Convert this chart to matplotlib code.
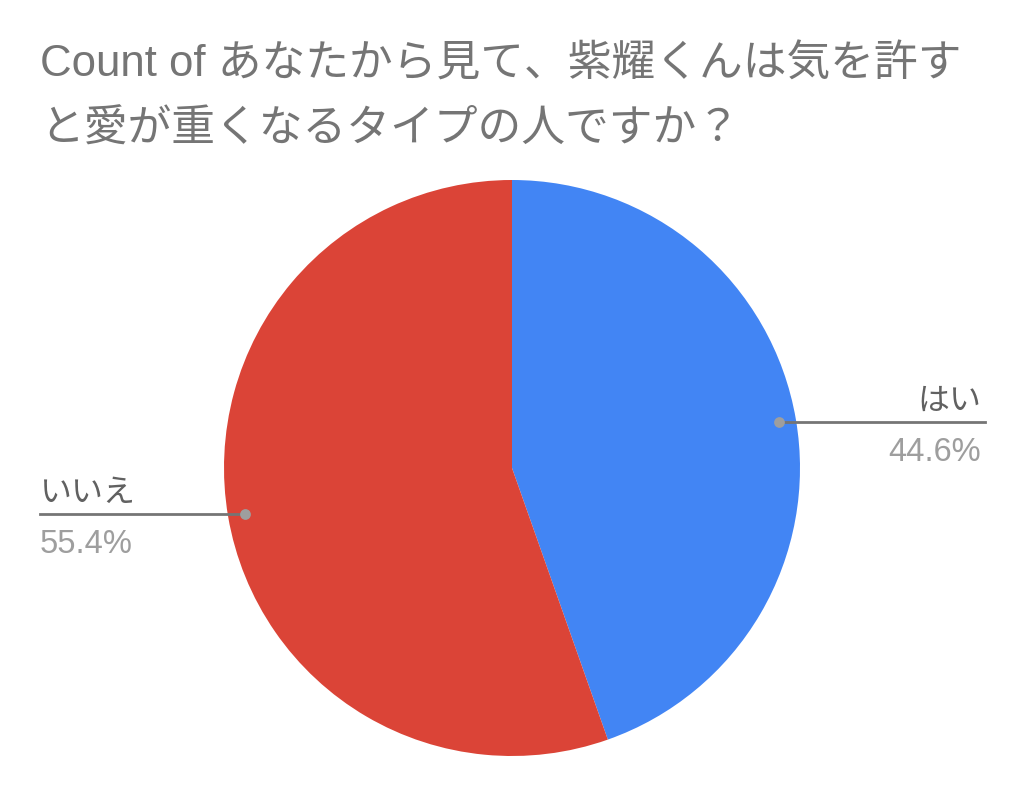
import numpy as np
import matplotlib
matplotlib.use("Agg")
import matplotlib.pyplot as plt

plt.rcParams['font.family'] = ['Liberation Sans', 'Noto Sans CJK JP', 'DejaVu Sans']

# data
labels = ["はい", "いいえ"]
values = [44.6, 55.4]
colors = ["#4285F4", "#DB4437"]
title_lines = ["Count of あなたから見て、紫耀くんは気を許す",
               "と愛が重くなるタイプの人ですか？"]

W, H = 1024, 786
fig = plt.figure(figsize=(W / 100, H / 100), dpi=100)
ax = fig.add_axes([0, 0, 1, 1])

cx, cy, r = 512, H - 468, 288
wedges, _ = ax.pie(values, colors=colors, startangle=90, counterclock=False,
                   center=(cx, cy), radius=r, frame=True,
                   wedgeprops=dict(linewidth=0))
ax.set_xlim(0, W)
ax.set_ylim(0, H)
ax.set_aspect('equal')
ax.axis('off')

# leader lines and labels
for w, lab, v in zip(wedges, labels, values):
    mid = np.deg2rad((w.theta1 + w.theta2) / 2)
    dx, dy = cx + 0.94 * r * np.cos(mid), cy + 0.94 * r * np.sin(mid)
    if np.cos(mid) > 0:
        x_end, x_txt, ha = 985, 981, 'right'
    else:
        x_end, x_txt, ha = 40, 40, 'left'
    ax.plot([dx, x_end], [dy, dy], color="#757575", lw=2, zorder=3)
    ax.scatter([dx], [dy], s=60, color="#9e9e9e", zorder=4, linewidths=0)
    ax.text(x_txt, dy + 12, lab, ha=ha, va='baseline', fontsize=23, color="#616161")
    ax.text(x_txt, dy - 39, f"{v:.1f}%", ha=ha, va='baseline', fontsize=23.5, color="#9e9e9e")

ax.text(40, H - 77, title_lines[0], ha='left', va='baseline', fontsize=31.5, color="#757575")
ax.text(40, H - 142, title_lines[1], ha='left', va='baseline', fontsize=31.5, color="#757575")

fig.savefig("out.png", dpi=100, facecolor="white")
